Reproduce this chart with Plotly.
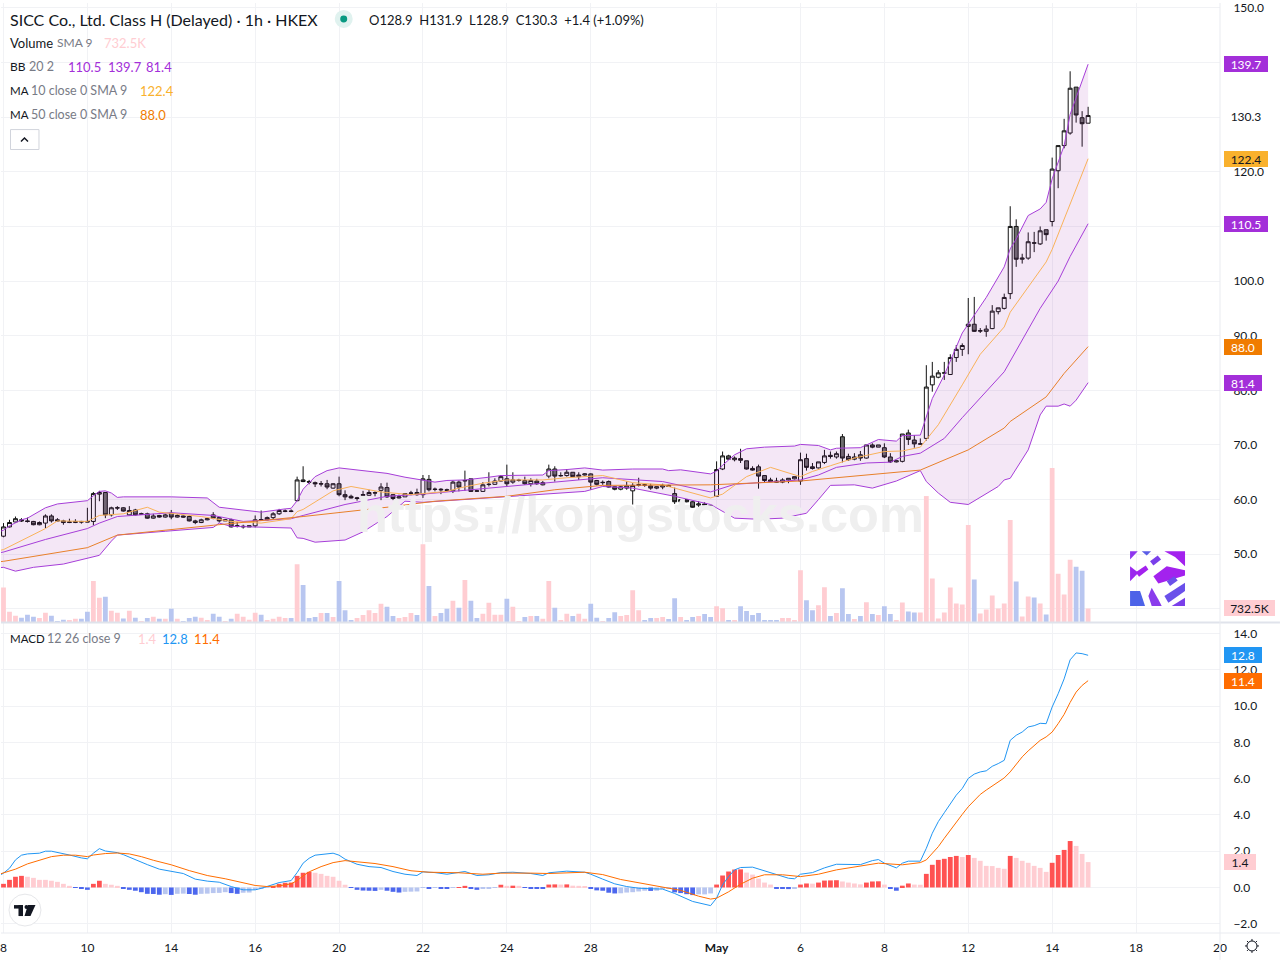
import plotly.graph_objects as go

# candles, one per hour bar
opens = [
    53.3,55.0,55.9,56.3,56.1,56.0,55.4,55.7,57.0,56.3,
    56.1,55.8,55.8,56.0,56.0,56.0,61.0,61.3,57.2,58.45,
    58.5,57.2,58.1,57.3,57.4,56.6,57.1,56.8,57.5,56.8,
    57.0,56.9,56.1,55.8,56.3,57.2,56.7,56.1,56.3,55.1,
    55.0,55.0,55.2,56.35,56.3,56.7,57.4,57.85,57.9,59.8,
    63.6,63.3,63.1,62.85,62.9,62.1,62.9,60.9,60.6,60.2,
    60.8,60.8,61.2,61.7,62.2,60.9,60.3,60.5,61.15,61.3,
    60.9,63.7,61.85,61.9,61.8,61.6,63.2,63.4,63.8,61.6,
    61.5,62.75,62.8,63.4,63.8,63.2,63.5,63.5,62.9,63.4,
    62.7,64.3,65.6,64.35,64.4,65.0,64.2,64.5,64.7,63.5,
    63.1,63.3,62.35,61.9,62.1,61.6,62.65,62.7,62.5,62.1,
    62.3,62.6,61.1,59.6,60.0,59.6,59.0,59.2,58.95,60.6,
    65.6,68.0,67.3,67.5,67.1,65.7,66.0,64.4,63.6,63.4,
    63.2,63.6,63.8,63.4,67.5,66.0,65.8,66.8,68.1,67.8,
    71.5,67.9,67.4,68.2,67.6,70.0,69.6,69.5,67.8,66.9,
    67.0,72.2,70.9,70.15,71.2,81.0,82.4,83.15,82.9,86.0,
    87.5,91.7,92.1,90.85,90.8,91.3,94.4,95.0,97.7,110.0,
    104.0,104.2,107.0,106.8,109.4,110.9,120.2,124.8,127.1,135.5,129.9,128.9,
]
closes = [
    55.0,55.8,56.5,56.1,56.0,55.4,55.8,57.0,56.1,56.1,
    55.8,55.9,56.0,55.9,55.9,61.1,61.3,57.2,58.5,58.5,
    57.9,58.0,57.2,57.4,56.6,57.0,56.8,57.2,56.8,57.1,
    56.8,56.1,55.8,56.3,56.5,56.6,56.1,56.3,55.0,55.2,
    55.1,55.2,56.3,56.3,56.7,57.4,58.0,57.9,57.85,63.6,
    63.3,63.2,62.9,62.9,62.3,62.9,60.9,60.5,60.3,60.3,
    60.9,61.3,61.25,62.3,60.5,60.2,60.5,61.1,61.2,60.9,
    63.8,61.8,61.9,61.8,61.7,63.2,62.3,63.5,61.5,61.55,
    62.7,62.8,63.4,64.2,62.9,63.6,63.55,62.9,63.5,62.9,
    63.1,65.6,64.3,64.4,65.0,64.2,64.5,64.7,63.2,62.8,
    63.15,62.3,61.9,62.35,62.5,62.6,62.7,62.65,62.1,62.35,
    62.6,62.4,59.6,60.0,59.6,58.6,59.2,59.0,58.9,65.5,
    68.0,67.4,67.6,67.2,65.6,65.4,64.3,63.5,63.3,63.2,
    63.6,63.9,64.2,67.3,65.9,65.7,66.9,68.0,67.9,68.4,
    67.6,67.3,67.8,67.6,70.0,69.6,70.0,67.8,66.9,67.1,
    72.0,71.0,70.2,70.2,80.6,82.6,83.2,83.2,86.0,87.5,
    88.2,92.1,90.8,90.9,91.2,94.5,95.1,97.0,110.0,104.0,
    104.2,107.2,106.95,109.2,108.5,120.5,124.8,127.5,135.3,130.4,128.8,130.3,
]
highs = [
    55.7,56.3,56.9,56.6,56.7,56.1,56.0,57.3,57.3,56.6,
    56.3,56.5,56.4,56.1,58.5,61.4,61.6,61.4,58.7,58.8,
    58.6,58.8,58.3,57.6,57.6,57.4,57.2,57.4,58.1,57.3,
    57.1,57.1,56.3,56.5,56.5,57.7,56.8,56.4,56.5,55.9,
    55.4,55.2,57.1,58.0,56.9,57.7,58.3,58.2,58.2,64.2,
    66.1,63.6,63.3,63.4,63.6,63.0,64.2,61.7,60.9,60.5,
    61.6,61.8,61.5,63.0,63.1,61.0,60.9,61.1,61.6,62.0,
    64.5,64.5,62.2,62.1,62.0,63.5,63.5,65.3,63.8,61.8,
    63.2,65.0,63.9,64.5,66.4,65.0,63.8,64.2,63.9,63.8,
    63.4,66.4,66.1,65.0,65.6,65.0,65.0,64.8,64.8,63.6,
    63.5,63.5,62.4,62.5,63.3,63.0,64.0,63.0,62.9,62.4,
    62.9,62.7,62.2,60.0,60.0,59.7,59.7,59.5,59.0,67.0,
    68.8,68.2,67.9,69.3,67.1,66.1,66.4,64.4,64.0,64.0,
    63.9,63.9,64.2,68.6,68.4,66.7,66.9,69.1,68.8,68.8,
    72.0,68.4,68.5,68.9,70.0,70.3,70.0,70.3,68.5,67.1,
    72.0,72.8,71.8,71.2,84.6,85.2,83.7,85.2,86.6,88.3,
    88.6,96.9,97.1,91.4,91.9,95.6,95.1,97.7,113.7,111.3,
    105.0,108.9,109.0,110.0,109.4,122.6,124.8,129.7,138.4,135.5,131.1,131.9,
]
lows = [
    53.1,54.9,55.8,55.9,55.8,55.3,55.3,54.8,55.8,56.1,
    55.4,55.7,55.7,55.6,55.9,55.3,59.7,56.6,56.9,58.1,
    57.8,57.1,57.1,57.2,56.5,56.5,56.7,56.7,56.4,56.7,
    56.7,56.0,55.5,55.7,56.2,56.4,55.8,56.1,54.9,54.9,
    54.7,55.0,54.9,56.2,56.2,56.3,57.2,57.7,57.7,59.7,
    63.2,62.8,62.3,62.4,61.9,62.0,60.6,59.9,60.2,59.8,
    60.8,60.7,60.6,59.9,60.3,59.9,60.2,60.5,60.8,60.7,
    60.3,61.5,61.5,61.0,61.4,61.2,61.5,61.6,61.4,61.4,
    61.4,62.4,62.7,63.3,62.4,62.9,63.3,62.7,62.4,62.7,
    62.6,63.9,63.3,64.2,64.2,64.2,63.6,64.4,61.8,62.6,
    62.7,62.2,61.7,61.7,61.8,59.1,62.4,62.35,61.8,61.9,
    61.9,62.3,59.2,59.5,59.5,58.5,58.6,58.9,58.8,60.6,
    65.4,67.3,67.0,66.7,65.5,65.3,62.0,63.2,63.3,63.1,
    63.0,63.0,63.7,62.7,65.3,65.5,65.7,66.5,67.5,67.5,
    66.8,67.1,67.2,67.1,67.5,69.4,69.6,67.6,66.7,66.8,
    66.8,70.0,69.5,70.1,70.8,79.75,82.2,81.9,82.8,85.2,
    86.3,86.6,90.7,90.5,89.8,91.2,93.9,94.8,96.7,102.6,
    103.2,103.9,105.3,106.6,107.4,110.0,117.0,124.3,126.8,129.0,124.6,128.9,
]
# volume in thousands
volumes = [
    1830,557,348,244,400,296,226,505,348,70,
    139,122,191,191,557,2175,1288,1340,609,505,
    209,609,244,70,226,296,191,191,713,191,
    70,226,296,244,122,452,296,70,191,452,
    296,139,505,400,122,191,296,226,226,3045,
    1966,226,278,487,487,278,2175,644,122,226,
    383,644,487,974,818,331,226,278,487,383,
    4106,1914,331,487,713,1131,766,2227,1131,226,
    452,1027,400,400,1235,818,70,278,331,331,
    191,2175,766,122,452,331,452,191,974,244,
    52,226,539,331,383,1688,644,122,226,226,
    278,174,1270,278,122,278,331,435,278,853,
    748,122,122,853,592,383,487,122,122,122,
    226,226,122,2732,1166,644,905,1844,331,487,
    1792,435,174,331,1061,435,383,853,435,122,
    1044,574,522,522,6629,2297,209,522,1827,992,
    940,5116,2245,470,679,1409,731,992,5377,2140,
    313,1357,1305,992,418,8107,2558,1462,3289,2923,2714,732.5,
]
hist = [
    .2,.42,.59,.64,.59,.53,.42,.42,.37,.31,
    .2,.09,-.02,-.05,-.13,.2,.37,.2,.15,.09,
    -.04,-.13,-.18,-.26,-.35,-.36,-.40,-.37,-.41,-.35,
    -.34,-.36,-.40,-.35,-.34,-.31,-.30,-.26,-.31,-.35,
    -.29,-.28,-.13,-.07,-.01,.05,.2,.26,.27,.64,
    .81,.86,.81,.75,.64,.59,.37,.15,-.01,-.13,
    -.17,-.18,-.19,-.13,-.18,-.24,-.28,-.24,-.23,-.22,
    -.01,-.03,-.02,-.07,-.08,-.01,.02,.09,-.04,-.13,
    -.04,-.03,-.02,.15,.09,.10,.09,-.02,-.03,-.07,
    -.08,.16,.17,.16,.17,.1,.09,.08,-.06,-.16,
    -.18,-.29,-.33,-.32,-.28,-.26,-.22,-.18,-.19,-.18,
    -.05,-.04,-.27,-.31,-.37,-.42,-.38,-.38,-.33,.16,
    .66,.88,.99,1.0,.82,.71,.49,.27,.16,-.03,
    -.06,-.09,-.06,.16,.22,.21,.27,.38,.39,.40,
    .33,.27,.22,.17,.27,.33,.34,.16,-.06,-.18,
    .1,.22,.16,.15,.75,1.25,1.52,1.58,1.68,1.74,
    1.68,1.79,1.63,1.47,1.19,1.18,1.08,1.03,1.74,1.63,
    1.47,1.36,1.19,1.08,.86,1.36,1.79,2.07,2.56,2.29,1.85,1.4,
]

# indicator lines, read at the bars where they bend
bb_up_x = [-1,0,1,3,4,7,9,14,15,16,17,18,19,20,28,34,36,43,47,48,49,50,52,54,56,60,64,67,70,72,74,77,81,83,90,91,94,97,100,105,110,111,113,118,119,120,122,124,127,132,133,136,138,139,143,146,149,150,153,154,155,157,160,164,167,168,169,171,173,174,175,177,178,181]
bb_up = [54.0,54.4,55.2,56.3,56.6,58.5,59.2,59.8,60.7,61.5,61.6,61.2,60.4,60.5,60.5,60.3,58.6,57.7,58.3,58.4,59.8,61.9,64.2,65.3,65.8,65.3,64.8,64.1,63.6,63.2,63.5,63.6,64.1,64.4,64.5,65.3,65.5,65.8,65.4,65.6,65.6,65.3,65.45,64.7,65.2,66.3,68.2,69.3,69.6,69.8,70.1,69.9,69.1,69.4,69.5,71.0,70.7,71.7,71.8,75.2,78.5,82.8,90.5,97.0,102.6,105.9,107.7,112.0,113.2,114.4,118.7,124.8,130.5,139.7]
bb_mid_x = [-1,0,7,14,16,19,28,35,40,48,50,57,64,70,75,84,90,97,100,110,118,122,128,133,136,139,144,148,150,153,157,160,167,173,176,178,181]
bb_mid = [50.2,50.4,52.7,54.7,55.7,56.9,57.6,57.1,56.0,56.5,57.1,59.1,60.6,61.0,61.5,62.4,63.0,63.6,64.0,63.3,61.4,62.8,63.3,63.6,64.5,65.9,66.7,66.85,67.9,68.5,71.2,75.0,83.4,95.0,100.0,104.5,110.5]
bb_low_x = [-1,0,2,5,10,14,16,18,19,27,35,36,38,48,49,50,52,57,60,64,67,70,78,84,92,97,100,105,112,118,122,126,130,134,136,138,142,145,149,153,154,156,158,161,166,167,168,171,173,174,176,177,178,179,181]
bb_low = [47.5,47.6,46.9,47.6,48.2,49.3,49.8,52.4,53.5,54.2,54.9,55.7,55.1,54.8,53.0,52.9,52.2,52.6,54.1,56.9,59.7,59.5,60.1,60.6,61.2,61.5,62.4,62.1,60.6,59.1,56.6,56.4,56.6,57.5,60.0,62.6,62.7,62.1,63.4,65.3,63.3,61.2,59.5,59.1,62.4,63.6,63.9,69.1,75.5,77.1,77.1,77.5,77.1,78.2,81.4]
ma10_x = [-1,0,7,9,14,16,20,24,26,31,33,38,43,48,49,50,55,58,63,68,74,76,80,84,90,94,100,105,110,118,120,124,128,133,135,138,142,147,150,153,156,160,163,167,168,174,175,181]
ma10 = [50.6,50.85,54.7,56.1,56.0,57.1,57.4,58.6,57.7,57.1,56.9,56.0,55.7,56.5,57.8,58.2,61.6,62.4,61.4,60.9,61.5,62.1,63.0,63.6,63.6,64.0,64.4,63.1,62.7,60.3,61.0,64.2,65.9,64.2,65.15,66.2,67.6,68.8,68.9,69.6,73.7,81.0,86.6,91.6,94.3,103.5,105.8,122.4]
ma50_x = [-1,0,14,19,35,41,50,64,72,84,92,100,118,133,138,153,161,167,168,174,177,181]
ma50 = [48.6,48.7,51.2,53.5,55.3,55.9,56.9,58.6,59.7,60.6,61.8,62.6,62.7,63.4,63.9,65.4,69.1,73.1,74.3,78.8,83.1,88.0]
macd_x = [-1,0,1,2,3,4,6,7,8,9,11,13,14,15,16,17,19,20,22,24,26,28,30,32,34,36,38,40,42,43,45,46,48,49,50,51,52,53,54,55,56,57,59,61,63,65,67,69,70,72,74,76,77,79,81,83,85,88,90,91,94,97,98,100,102,104,106,108,110,112,115,118,119,120,121,122,123,125,127,129,131,132,133,135,137,139,143,145,146,147,148,149,150,151,153,154,155,156,157,158,159,160,161,162,163,164,165,166,167,168,169,170,171,172,173,174,175,176,177,178,179,180,181]
macd = [.6,.79,1.06,1.52,1.78,1.85,1.89,2.0,2.0,1.94,1.79,1.63,1.58,1.89,2.14,2.01,1.92,1.81,1.52,1.26,1.01,.88,.77,.46,.35,.29,.05,-.13,-.13,-.05,.15,.27,.38,.82,1.34,1.61,1.78,1.83,1.85,1.89,1.78,1.56,1.28,1.15,1.10,.88,.73,.66,.86,.82,.73,.81,.88,.66,.70,.82,.84,.77,.66,.81,.90,.84,.73,.46,.2,.05,-.04,-.07,-.09,-.33,-.77,-1.0,-.59,.15,.6,.97,1.1,1.12,.93,.7,.51,.48,.73,.82,1.08,1.28,1.26,1.48,1.54,1.34,1.19,1.08,1.34,1.45,1.45,2.16,2.99,3.63,4.12,4.63,5.09,5.46,6.01,6.25,6.37,6.43,6.68,6.83,7.01,8.11,8.39,8.57,8.85,8.92,9.05,9.03,9.95,10.68,11.5,12.55,12.93,12.89,12.8]
signal_x = [-1,0,2,4,6,8,10,12,14,15,17,19,21,23,25,28,31,34,37,40,42,44,46,48,49,50,51,53,55,57,59,62,65,68,71,76,80,83,88,91,97,100,103,106,110,113,116,118,119,121,123,125,127,130,133,136,139,142,146,150,153,154,155,156,157,158,159,160,161,162,163,164,165,166,167,168,169,170,171,172,173,174,175,176,177,178,179,180,181]
signal = [.7,.79,1.01,1.3,1.52,1.70,1.78,1.78,1.70,1.79,1.87,1.9,1.85,1.70,1.5,1.25,.93,.66,.48,.24,.11,.05,.09,.2,.38,.64,.86,1.15,1.37,1.48,1.41,1.32,1.15,.92,.84,.81,.73,.79,.79,.77,.84,.71,.44,.26,.05,-.16,-.48,-.64,-.59,-.24,.18,.51,.7,.7,.6,.73,.97,1.14,1.34,1.25,1.37,1.52,1.89,2.25,2.71,3.17,3.63,4.03,4.45,4.82,5.13,5.37,5.59,5.79,6.04,6.37,6.8,7.2,7.53,7.84,8.11,8.3,8.57,9.03,9.54,10.2,10.77,11.14,11.4]

# x axis: bar number and the date shown there
tick_bars = [0,14,28,42,56,70,84,98,119,133,147,161,175,189,203]
tick_text = ["8","10","14","16","20","22","24","28","<b>May</b>","6","8","12","14","18","20"]

# flags on the price axis: value, text, colour, text colour, width, axis
flags = [
    (139.7, "139.7", "#A32FD9", "white", 44, "y"),
    (130.3, "130.3", "white", "#131722", 44, "y"),
    (122.4, "122.4", "#F9B12D", "#131722", 44, "y"),
    (110.5, "110.5", "#A32FD9", "white", 44, "y"),
    (88.0, "88.0", "#F07C00", "white", 38, "y"),
    (81.4, "81.4", "#A32FD9", "white", 38, "y"),
    (732.5, "732.5K", "#FFCDD2", "#131722", 51, "y3"),
    (12.8, "12.8", "#2196F3", "white", 38, "y2"),
    (11.4, "11.4", "#FF6D00", "white", 38, "y2"),
    (1.4, "1.4", "#FFCDD2", "#131722", 32, "y2"),
]

FONT = "Lato"
DARK = "#131722"
GREY = "#787B86"
GRID = "#F1F2F5"
BORDER = "#E0E3EB"
PANE_W = 1220.0
PANE_H = 933.0
SPLIT = 621.4

bars = list(range(len(closes)))


def px(x):
    return x / PANE_W


def py(y):
    return 1 - y / PANE_H


def label(x, y, text, color=DARK, size=13):
    # annotations keep about 2px of padding round the text
    return dict(xref="paper", yref="paper", x=px(x - 2), y=py(y), text=text, showarrow=False,
                xanchor="left", yanchor="middle", align="left",
                font=dict(family=FONT, size=size, color=color))


def rect(x0, y0, x1, y1, color):
    return dict(type="rect", xref="paper", yref="paper", x0=px(x0), y0=py(y0), x1=px(x1), y1=py(y1),
                fillcolor=color, line_width=0)


def hline(x0, y0, x1, y1, color, width=1):
    return dict(type="line", xref="paper", yref="paper", x0=px(x0), y0=py(y0), x1=px(x1), y1=py(y1),
                line=dict(color=color, width=width))


def poly(points, color):
    path = "M " + " L ".join(f"{px(a)},{py(b)}" for a, b in points) + " Z"
    return dict(type="path", xref="paper", yref="paper", path=path, fillcolor=color, line_width=0)


def circle(cx, cy, r, fill, line=None):
    return dict(type="circle", xref="paper", yref="paper", x0=px(cx - r), y0=py(cy + r), x1=px(cx + r), y1=py(cy - r),
                fillcolor=fill, line=dict(color=line or fill, width=1 if line else 0))


def logo(points, color):
    return poly([(1125 + a / 3, 545 + b / 3) for a, b in points], color)


fig = go.Figure()

# volume sits under everything else on its own hidden axis
vol_colors = ["#FFCDD2" if c >= o else "#B8C6F0" for o, c in zip(opens, closes)]
fig.add_trace(go.Bar(x=bars, y=volumes, marker_color=vol_colors, marker_line_width=0, xaxis="x", yaxis="y3"))

# Bollinger band
fig.add_trace(go.Scatter(x=bb_up_x, y=bb_up, mode="lines", line=dict(color="#A63ED8", width=1)))
fig.add_trace(go.Scatter(x=bb_low_x, y=bb_low, mode="lines", line=dict(color="#A63ED8", width=1),
                         fill="tonexty", fillcolor="rgba(156,39,176,0.11)"))
fig.add_trace(go.Scatter(x=bb_mid_x, y=bb_mid, mode="lines", line=dict(color="#A63ED8", width=1)))
fig.add_trace(go.Scatter(x=ma10_x, y=ma10, mode="lines", line=dict(color="#F9B25A", width=1)))
fig.add_trace(go.Scatter(x=ma50_x, y=ma50, mode="lines", line=dict(color="#E8802A", width=1)))

fig.add_trace(go.Candlestick(x=bars, open=opens, high=highs, low=lows, close=closes,
                             increasing=dict(fillcolor="white", line=dict(color="#111111", width=1)),
                             decreasing=dict(fillcolor="#6E6E6E", line=dict(color="#111111", width=1)),
                             whiskerwidth=0))

# MACD pane
hist_colors = []
for i, h in enumerate(hist):
    prev = hist[i - 1] if i else 0
    if h >= 0:
        hist_colors.append("#FF5252" if h > prev else "#FFCDD2")
    else:
        hist_colors.append("#4C67EE" if h < prev else "#B8C6F0")
fig.add_trace(go.Bar(x=bars, y=hist, marker_color=hist_colors, marker_line_width=0, xaxis="x2", yaxis="y2"))
fig.add_trace(go.Scatter(x=macd_x, y=macd, mode="lines", line=dict(color="#2196F3", width=1), xaxis="x2", yaxis="y2"))
fig.add_trace(go.Scatter(x=signal_x, y=signal, mode="lines", line=dict(color="#FF6D00", width=1), xaxis="x2", yaxis="y2"))

notes = [
    label(9, 17, "SICC Co., Ltd. Class H (Delayed) · 1h · HKEX", size=16),
    label(368, 17, "O128.9  H131.9  L128.9  C130.3  +1.4 (+1.09%)", size=13),
    label(9, 40, "Volume"), label(56, 40, "SMA 9", GREY, 12), label(103, 40, "732.5K", "#FFCDD2"),
    label(9, 64, "BB", size=12), label(28, 64, "20 2", GREY, 12.5),
    label(67, 64, "110.5", "#A32FD9"), label(107, 64, "139.7", "#A32FD9"), label(145, 64, "81.4", "#A32FD9"),
    label(9, 88, "MA", size=11.5), label(30, 88, "10 close 0 SMA 9", GREY, 12.5), label(139, 88, "122.4", "#F9B12D"),
    label(9, 112, "MA", size=11.5), label(30, 112, "50 close 0 SMA 9", GREY, 12.5), label(139, 112, "88.0", "#F07C00"),
    label(9, 638, "MACD", size=11.5), label(46, 638, "12 26 close 9", GREY, 12.5),
    label(137, 638, "1.4", "#FFCDD2"), label(161, 638, "12.8", "#2196F3"), label(193, 638, "11.4", "#FF6D00"),
    dict(xref="paper", yref="paper", x=px(640), y=py(513), text="https://kongstocks.com", showarrow=False,
         font=dict(family="Liberation Sans", size=50.5, color="#EFEFEF", weight="bold")),
]
for value, text, color, text_color, width, axis in flags:
    notes.append(dict(xref="paper", yref=axis, x=px(1224), y=value, text=text, showarrow=False,
                      xanchor="left", yanchor="middle", align="center", width=width, height=16,
                      bgcolor=color, borderpad=0, borderwidth=0,
                      font=dict(family=FONT, size=12, color=text_color)))

shapes = [
    hline(0, SPLIT, 1280, SPLIT, BORDER, 2),
    hline(PANE_W, 0, PANE_W, 960, "#E9EBF0"),
    hline(0, PANE_H, 1280, PANE_H, "#E9EBF0"),
    # status dot
    circle(343, 16, 9, "#E0F2EF"),
    circle(343, 16, 3.5, "#089981"),
    # collapse button
    dict(type="rect", xref="paper", yref="paper", x0=px(9.5), y0=py(147), x1=px(38), y1=py(127),
         fillcolor="white", line=dict(color="#D1D4DC", width=1)),
    dict(type="path", xref="paper", yref="paper", line=dict(color=DARK, width=1.5),
         path=f"M {px(20)},{py(139)} L {px(23.5)},{py(135.5)} L {px(27)},{py(139)}"),
    # TradingView badge
    circle(24, 910, 16, "white", "#E6E7EA"),
    rect(13, 905, 22, 908.5, "#131722"),
    rect(17.5, 905, 22, 916, "#131722"),
    circle(25.5, 907, 2, "#131722"),
    poly([(27, 905), (34.5, 905), (29.5, 916), (23.5, 916)], "#131722"),
    # settings gear
    circle(1252, 946, 5, "white", DARK),
    hline(1252, 939, 1252, 941, DARK), hline(1252, 951, 1252, 953, DARK),
    hline(1245, 946, 1247, 946, DARK), hline(1257, 946, 1259, 946, DARK),
    hline(1247, 941, 1248.5, 942.5, DARK), hline(1255.5, 949.5, 1257, 951, DARK),
    hline(1247, 951, 1248.5, 949.5, DARK), hline(1255.5, 942.5, 1257, 941, DARK),
    # square watermark logo
    logo([(15, 15), (38, 15), (15, 40)], "#8E36EE"),
    logo([(50, 15), (78, 15), (65, 28)], "#5A5CE6"),
    logo([(75, 45), (98, 28), (108, 40), (85, 58)], "#7A3FEA"),
    logo([(118, 15), (180, 15), (180, 60), (150, 32)], "#A322EE"),
    logo([(15, 60), (40, 80), (15, 105)], "#9A28EE"),
    logo([(32, 78), (62, 58), (70, 70), (42, 92)], "#A322EE"),
    logo([(85, 90), (125, 60), (180, 72), (180, 88), (100, 112)], "#A322EE"),
    logo([(125, 105), (148, 90), (158, 103), (135, 120)], "#6A50EA"),
    logo([(15, 135), (45, 135), (60, 180), (15, 180)], "#4D63E8"),
    logo([(80, 125), (100, 160), (110, 180), (80, 180), (70, 150)], "#8A3CEC"),
    logo([(118, 150), (180, 110), (180, 135), (130, 170)], "#6A50EA"),
    logo([(140, 180), (180, 155), (180, 180)], "#7A3FEA"),
]

axis_x = dict(range=[-0.417, 203.01], showgrid=True, gridcolor=GRID, zeroline=False,
              tickmode="array", tickvals=tick_bars, showline=False, rangeslider=dict(visible=False),
              ticks="outside", ticklen=4, tickcolor="rgba(0,0,0,0)", ticklabeloverflow="allow")
axis_y = dict(side="right", showgrid=True, gridcolor=GRID, zeroline=False, tickformat=".1f",
              ticks="outside", ticklen=10, tickcolor="rgba(0,0,0,0)", ticklabeloverflow="allow",
              tickfont=dict(family=FONT, size=12, color=DARK))

fig.update_layout(
    width=1280, height=960,
    margin=dict(l=0, r=60, t=0, b=27),
    paper_bgcolor="white", plot_bgcolor="white",
    showlegend=False, barmode="overlay", bargap=0.2, boxgap=0.35, boxgroupgap=0,
    hovermode=False,
    xaxis=dict(axis_x, anchor="y", showticklabels=False, ticktext=tick_text),
    xaxis2=dict(axis_x, anchor="y2", ticktext=tick_text, matches="x",
                tickfont=dict(family=FONT, size=12, color=DARK)),
    yaxis=dict(axis_y, domain=[1 - SPLIT / PANE_H, 1], range=[37.52, 150.9], dtick=10, tick0=50),
    yaxis2=dict(axis_y, domain=[0, 1 - 622 / PANE_H], range=[-2.51, 14.58], dtick=2, tick0=0),
    yaxis3=dict(domain=[1 - SPLIT / PANE_H, 1], overlaying="y", range=[0, 32500], visible=False),
    shapes=shapes,
    annotations=notes,
)

fig.write_html("out.html", config={"displayModeBar": False},
               post_script="document.body.style.margin='0';")
